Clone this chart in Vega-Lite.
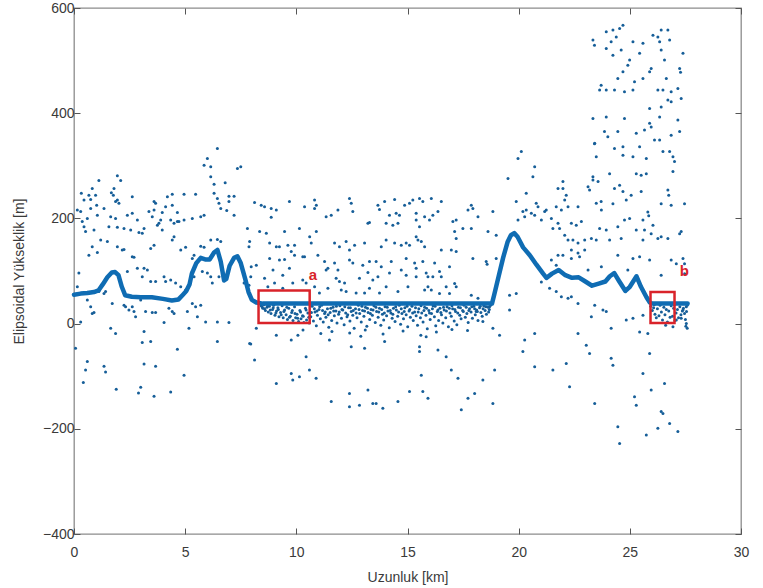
{
  "$schema": "https://vega.github.io/schema/vega-lite/v6.json",
  "width": 667,
  "height": 526,
  "autosize": {"type": "none"},
  "padding": {"left": 74, "top": 8, "right": 22, "bottom": 54},
  "background": "white",
  "config": {
    "view": {"stroke": "#8c8c8c", "strokeWidth": 1.3},
    "axis": {
      "labelFont": "Liberation Sans",
      "labelFontSize": 14,
      "labelColor": "#3a3a3a",
      "titleFont": "Liberation Sans",
      "titleFontSize": 14,
      "titleColor": "#3a3a3a",
      "titleFontWeight": "normal",
      "domain": false,
      "grid": false,
      "tickColor": "#555555",
      "tickWidth": 1,
      "tickSize": -6
    }
  },
  "datasets": {
    "profile": [
      {"x":0,"y":55},{"x":0.3,"y":57},{"x":0.6,"y":58},{"x":0.9,"y":60},{"x":1.1,"y":63},{"x":1.3,"y":75},{"x":1.5,"y":88},{"x":1.7,"y":97},{"x":1.85,"y":98},{"x":2.0,"y":92},{"x":2.15,"y":70},{"x":2.3,"y":54},{"x":2.6,"y":51},{"x":3.0,"y":50},{"x":3.5,"y":50},{"x":4.0,"y":47},{"x":4.4,"y":44},{"x":4.7,"y":46},{"x":4.9,"y":55},{"x":5.05,"y":62},{"x":5.2,"y":75},{"x":5.3,"y":95},{"x":5.5,"y":115},{"x":5.7,"y":125},{"x":5.9,"y":122},{"x":6.1,"y":122},{"x":6.3,"y":135},{"x":6.45,"y":140},{"x":6.6,"y":118},{"x":6.75,"y":82},{"x":6.85,"y":85},{"x":7.0,"y":110},{"x":7.2,"y":125},{"x":7.35,"y":128},{"x":7.5,"y":115},{"x":7.7,"y":85},{"x":7.85,"y":60},{"x":8.0,"y":45},{"x":8.2,"y":40},{"x":8.5,"y":38},{"x":18.8,"y":38},{"x":18.9,"y":55},{"x":19.1,"y":90},{"x":19.3,"y":125},{"x":19.5,"y":155},{"x":19.65,"y":168},{"x":19.8,"y":172},{"x":19.95,"y":165},{"x":20.2,"y":145},{"x":20.5,"y":130},{"x":20.8,"y":112},{"x":21.1,"y":95},{"x":21.25,"y":87},{"x":21.5,"y":95},{"x":21.8,"y":102},{"x":22.1,"y":92},{"x":22.4,"y":87},{"x":22.7,"y":88},{"x":23.0,"y":80},{"x":23.3,"y":72},{"x":23.6,"y":76},{"x":23.9,"y":80},{"x":24.1,"y":90},{"x":24.3,"y":96},{"x":24.5,"y":82},{"x":24.8,"y":62},{"x":25.0,"y":70},{"x":25.3,"y":90},{"x":25.5,"y":70},{"x":25.75,"y":50},{"x":25.9,"y":40},{"x":26.0,"y":38},{"x":27.6,"y":38}
    ],
    "boxes": [
      {"name":"a","x1":8.3,"x2":10.6,"y1":1,"y2":63},
      {"name":"b","x1":25.93,"x2":27.01,"y1":1,"y2":60}
    ],
    "labels": [
      {"name":"a","x":10.75,"y":92},
      {"name":"b","x":27.45,"y":100}
    ],
    "pts": [
      {"x":6.45,"y":333},{"x":6.0,"y":314},{"x":5.85,"y":301},{"x":6.15,"y":298},{"x":7.35,"y":295},{"x":7.5,"y":298},{"x":6.15,"y":279},{"x":1.95,"y":281},{"x":2.1,"y":272},{"x":1.12,"y":272},{"x":6.3,"y":265},{"x":6.8,"y":268},{"x":1.8,"y":257},{"x":1.68,"y":249},{"x":1.77,"y":244},{"x":0.82,"y":257},{"x":0.67,"y":244},{"x":0.33,"y":248},{"x":0.45,"y":235},{"x":0.75,"y":236},{"x":0.97,"y":244},{"x":1.95,"y":235},{"x":2.02,"y":229},{"x":1.87,"y":232},{"x":2.62,"y":241},{"x":3.6,"y":232},{"x":3.67,"y":229},{"x":4.2,"y":241},{"x":4.42,"y":246},{"x":4.95,"y":246},{"x":5.47,"y":246},{"x":6.3,"y":248},{"x":6.45,"y":238},{"x":6.52,"y":229},{"x":6.97,"y":242},{"x":7.2,"y":242},{"x":6.97,"y":232},{"x":0.15,"y":216},{"x":0.3,"y":213},{"x":0.75,"y":219},{"x":1.02,"y":225},{"x":0.6,"y":200},{"x":0.37,"y":194},{"x":1.35,"y":219},{"x":1.05,"y":206},{"x":1.65,"y":203},{"x":1.87,"y":200},{"x":2.4,"y":206},{"x":2.62,"y":210},{"x":2.85,"y":197},{"x":3.37,"y":213},{"x":3.6,"y":216},{"x":3.97,"y":211},{"x":4.12,"y":222},{"x":4.42,"y":225},{"x":4.65,"y":211},{"x":4.72,"y":194},{"x":4.95,"y":197},{"x":5.32,"y":200},{"x":5.7,"y":203},{"x":5.85,"y":206},{"x":6.6,"y":219},{"x":6.87,"y":215},{"x":7.2,"y":206},{"x":3.52,"y":203},{"x":3.9,"y":197},{"x":3.75,"y":187},{"x":4.35,"y":197},{"x":4.5,"y":191},{"x":4.65,"y":194},{"x":0.9,"y":178},{"x":0.52,"y":175},{"x":0.45,"y":184},{"x":1.57,"y":184},{"x":1.95,"y":183},{"x":2.25,"y":181},{"x":2.55,"y":178},{"x":2.92,"y":173},{"x":3.15,"y":181},{"x":3.07,"y":172},{"x":3.82,"y":191},{"x":3.97,"y":178},{"x":1.2,"y":159},{"x":1.5,"y":156},{"x":0.82,"y":146},{"x":1.05,"y":135},{"x":0.67,"y":130},{"x":1.95,"y":146},{"x":2.17,"y":140},{"x":2.25,"y":141},{"x":2.62,"y":127},{"x":2.7,"y":126},{"x":3.6,"y":149},{"x":3.45,"y":143},{"x":4.42,"y":159},{"x":4.5,"y":165},{"x":4.8,"y":140},{"x":5.02,"y":145},{"x":5.4,"y":130},{"x":5.32,"y":124},{"x":5.7,"y":147},{"x":5.85,"y":145},{"x":6.15,"y":159},{"x":6.45,"y":160},{"x":6.6,"y":156},{"x":7.8,"y":181},{"x":7.87,"y":146},{"x":2.4,"y":99},{"x":2.85,"y":105},{"x":3.15,"y":105},{"x":3.3,"y":102},{"x":3.07,"y":89},{"x":3.45,"y":80},{"x":3.67,"y":80},{"x":4.05,"y":89},{"x":4.12,"y":80},{"x":4.35,"y":83},{"x":4.57,"y":77},{"x":4.8,"y":70},{"x":5.02,"y":64},{"x":5.32,"y":99},{"x":5.4,"y":89},{"x":5.77,"y":99},{"x":6.0,"y":96},{"x":6.15,"y":89},{"x":6.22,"y":77},{"x":6.52,"y":89},{"x":7.95,"y":89},{"x":7.65,"y":77},{"x":7.87,"y":73},{"x":1.12,"y":61},{"x":1.35,"y":57},{"x":1.42,"y":61},{"x":0.22,"y":96},{"x":0.15,"y":70},{"x":0.6,"y":45},{"x":0.75,"y":32},{"x":0.82,"y":19},{"x":0.9,"y":21},{"x":0.3,"y":3},{"x":1.72,"y":38},{"x":2.25,"y":35},{"x":2.32,"y":32},{"x":2.62,"y":32},{"x":2.47,"y":26},{"x":2.7,"y":23},{"x":2.77,"y":13},{"x":3.0,"y":45},{"x":3.22,"y":23},{"x":3.52,"y":21},{"x":3.67,"y":21},{"x":4.27,"y":29},{"x":4.42,"y":23},{"x":4.5,"y":19},{"x":4.05,"y":2},{"x":5.1,"y":23},{"x":5.17,"y":-9},{"x":5.32,"y":38},{"x":5.47,"y":32},{"x":5.55,"y":13},{"x":5.92,"y":3},{"x":6.45,"y":3},{"x":6.97,"y":2},{"x":5.7,"y":35},{"x":1.65,"y":-9},{"x":1.87,"y":-19},{"x":0.07,"y":-47},{"x":3.15,"y":-15},{"x":3.07,"y":-36},{"x":3.45,"y":-34},{"x":4.65,"y":-49},{"x":6.45,"y":-34},{"x":7.95,"y":-39},{"x":0.6,"y":-72},{"x":0.52,"y":-88},{"x":0.42,"y":-112},{"x":1.35,"y":-81},{"x":1.42,"y":-92},{"x":3.15,"y":-77},{"x":3.67,"y":-81},{"x":4.95,"y":-98},{"x":3.0,"y":-121},{"x":3.6,"y":-138},{"x":4.35,"y":-130},{"x":2.9,"y":-132},{"x":1.9,"y":-125},
      {"x":8.12,"y":230},{"x":8.42,"y":225},{"x":8.57,"y":222},{"x":8.87,"y":219},{"x":9.1,"y":216},{"x":9.69,"y":232},{"x":10.37,"y":222},{"x":10.82,"y":235},{"x":10.9,"y":225},{"x":10.82,"y":219},{"x":11.34,"y":203},{"x":11.57,"y":206},{"x":11.87,"y":216},{"x":12.39,"y":238},{"x":12.47,"y":229},{"x":12.54,"y":213},{"x":13.22,"y":191},{"x":13.29,"y":192},{"x":13.67,"y":225},{"x":13.74,"y":217},{"x":13.97,"y":232},{"x":14.19,"y":206},{"x":14.49,"y":210},{"x":14.64,"y":206},{"x":14.42,"y":236},{"x":14.87,"y":225},{"x":15.09,"y":229},{"x":15.24,"y":235},{"x":15.54,"y":238},{"x":15.69,"y":232},{"x":15.39,"y":210},{"x":15.77,"y":203},{"x":14.04,"y":191},{"x":14.34,"y":187},{"x":14.57,"y":191},{"x":15.39,"y":197},{"x":15.54,"y":184},{"x":8.87,"y":202},{"x":8.35,"y":175},{"x":8.65,"y":172},{"x":9.47,"y":175},{"x":10.14,"y":181},{"x":10.9,"y":175},{"x":7.9,"y":156},{"x":8.8,"y":153},{"x":9.1,"y":146},{"x":9.24,"y":146},{"x":9.62,"y":149},{"x":9.77,"y":137},{"x":9.92,"y":149},{"x":10.37,"y":127},{"x":10.6,"y":165},{"x":10.67,"y":153},{"x":10.97,"y":130},{"x":11.72,"y":153},{"x":11.94,"y":146},{"x":12.24,"y":156},{"x":12.39,"y":140},{"x":12.62,"y":149},{"x":13.07,"y":153},{"x":13.82,"y":146},{"x":14.04,"y":159},{"x":14.42,"y":153},{"x":14.72,"y":149},{"x":14.94,"y":153},{"x":15.09,"y":149},{"x":15.39,"y":165},{"x":15.47,"y":159},{"x":15.62,"y":156},{"x":15.77,"y":146},{"x":8.8,"y":124},{"x":9.24,"y":121},{"x":9.47,"y":122},{"x":9.92,"y":130},{"x":10.29,"y":127},{"x":11.27,"y":118},{"x":11.42,"y":105},{"x":11.72,"y":115},{"x":11.87,"y":102},{"x":12.39,"y":121},{"x":12.54,"y":115},{"x":12.99,"y":111},{"x":13.29,"y":118},{"x":13.59,"y":118},{"x":13.82,"y":108},{"x":14.27,"y":118},{"x":14.94,"y":124},{"x":15.32,"y":115},{"x":15.39,"y":105},{"x":15.69,"y":118},{"x":7.97,"y":108},{"x":8.2,"y":111},{"x":8.95,"y":102},{"x":9.39,"y":92},{"x":9.69,"y":105},{"x":10.29,"y":83},{"x":10.44,"y":77},{"x":11.34,"y":102},{"x":11.79,"y":86},{"x":11.94,"y":80},{"x":12.17,"y":77},{"x":12.84,"y":86},{"x":13.22,"y":97},{"x":13.44,"y":83},{"x":13.67,"y":89},{"x":14.19,"y":96},{"x":14.72,"y":102},{"x":14.94,"y":92},{"x":15.39,"y":89},{"x":15.84,"y":96},{"x":8.72,"y":70},{"x":9.02,"y":77},{"x":9.39,"y":67},{"x":9.84,"y":77},{"x":10.82,"y":70},{"x":11.04,"y":58},{"x":11.42,"y":67},{"x":12.02,"y":64},{"x":12.24,"y":61},{"x":12.69,"y":58},{"x":13.07,"y":58},{"x":13.29,"y":67},{"x":13.74,"y":58},{"x":14.04,"y":70},{"x":14.57,"y":61},{"x":15.02,"y":70},{"x":15.77,"y":64},{"x":8.57,"y":86},{"x":8.2,"y":-9},{"x":7.9,"y":-38},{"x":8.12,"y":-69},{"x":9.1,"y":-22},{"x":9.77,"y":-31},{"x":10.07,"y":-22},{"x":10.44,"y":-63},{"x":11.49,"y":-31},{"x":12.47,"y":-44},{"x":13.07,"y":-47},{"x":13.97,"y":-34},{"x":15.54,"y":-44},{"x":15.54,"y":-53},{"x":15.84,"y":-25},{"x":9.1,"y":-114},{"x":9.77,"y":-95},{"x":9.84,"y":-107},{"x":10.14,"y":-101},{"x":10.59,"y":-88},{"x":10.89,"y":-104},{"x":12.39,"y":-133},{"x":13.22,"y":-126},{"x":11.57,"y":-148},{"x":12.39,"y":-158},{"x":12.84,"y":-155},{"x":13.44,"y":-152},{"x":13.59,"y":-152},{"x":13.89,"y":-161},{"x":14.57,"y":-148},{"x":15.09,"y":-129},{"x":15.62,"y":-98},{"x":15.69,"y":-129},
      {"x":16.07,"y":238},{"x":16.52,"y":232},{"x":15.99,"y":197},{"x":16.14,"y":206},{"x":16.37,"y":213},{"x":17.04,"y":194},{"x":17.19,"y":197},{"x":17.12,"y":175},{"x":17.19,"y":162},{"x":17.72,"y":216},{"x":17.87,"y":225},{"x":17.94,"y":219},{"x":18.17,"y":203},{"x":18.84,"y":213},{"x":17.49,"y":181},{"x":17.87,"y":181},{"x":18.62,"y":175},{"x":18.99,"y":168},{"x":16.52,"y":140},{"x":16.97,"y":140},{"x":17.19,"y":137},{"x":17.94,"y":124},{"x":18.54,"y":118},{"x":18.58,"y":113},{"x":18.99,"y":124},{"x":15.92,"y":89},{"x":16.14,"y":89},{"x":16.22,"y":115},{"x":16.44,"y":99},{"x":16.52,"y":89},{"x":16.89,"y":108},{"x":16.74,"y":70},{"x":15.92,"y":70},{"x":16.07,"y":64},{"x":16.44,"y":57},{"x":16.89,"y":57},{"x":17.12,"y":76},{"x":17.19,"y":70},{"x":17.87,"y":54},{"x":18.17,"y":48},{"x":18.09,"y":23},{"x":18.39,"y":4},{"x":18.69,"y":32},{"x":18.84,"y":-9},{"x":19.14,"y":-22},{"x":16.37,"y":-50},{"x":16.74,"y":-63},{"x":16.97,"y":-88},{"x":17.27,"y":-104},{"x":17.72,"y":-142},{"x":18.02,"y":-133},{"x":18.39,"y":-107},{"x":17.42,"y":-164},{"x":18.84,"y":-152},{"x":18.92,"y":-88},{"x":15.92,"y":-142},
      {"x":20.12,"y":327},{"x":19.97,"y":314},{"x":20.72,"y":298},{"x":20.64,"y":279},{"x":19.52,"y":276},{"x":20.34,"y":248},{"x":19.89,"y":232},{"x":19.97,"y":197},{"x":20.19,"y":213},{"x":20.34,"y":216},{"x":20.57,"y":210},{"x":20.79,"y":229},{"x":20.87,"y":222},{"x":21.17,"y":213},{"x":21.24,"y":216},{"x":20.27,"y":203},{"x":20.72,"y":206},{"x":21.02,"y":197},{"x":21.47,"y":200},{"x":21.77,"y":257},{"x":21.99,"y":257},{"x":21.99,"y":270},{"x":22.14,"y":244},{"x":22.07,"y":235},{"x":21.69,"y":222},{"x":21.92,"y":216},{"x":22.22,"y":222},{"x":22.67,"y":222},{"x":21.54,"y":181},{"x":21.77,"y":191},{"x":21.84,"y":181},{"x":22.37,"y":191},{"x":22.59,"y":187},{"x":22.82,"y":194},{"x":22.07,"y":168},{"x":22.22,"y":159},{"x":22.44,"y":159},{"x":22.67,"y":153},{"x":21.77,"y":130},{"x":21.99,"y":130},{"x":22.37,"y":140},{"x":22.67,"y":134},{"x":22.97,"y":140},{"x":23.12,"y":260},{"x":23.19,"y":254},{"x":22.97,"y":159},{"x":23.27,"y":162},{"x":23.34,"y":273},{"x":23.57,"y":270},{"x":23.49,"y":229},{"x":23.72,"y":216},{"x":23.49,"y":159},{"x":23.64,"y":181},{"x":23.42,"y":343},{"x":23.49,"y":317},{"x":21.47,"y":121},{"x":21.69,"y":111},{"x":22.37,"y":124},{"x":22.74,"y":127},{"x":23.12,"y":102},{"x":23.72,"y":108},{"x":19.59,"y":54},{"x":19.89,"y":57},{"x":19.59,"y":26},{"x":21.02,"y":79},{"x":21.39,"y":67},{"x":21.69,"y":61},{"x":21.92,"y":51},{"x":22.22,"y":48},{"x":22.67,"y":38},{"x":22.37,"y":51},{"x":23.42,"y":35},{"x":23.27,"y":13},{"x":20.27,"y":-31},{"x":20.72,"y":-19},{"x":20.19,"y":-53},{"x":20.72,"y":-82},{"x":21.54,"y":-88},{"x":22.14,"y":-76},{"x":22.67,"y":-19},{"x":23.04,"y":-41},{"x":23.19,"y":-57},{"x":22.29,"y":-120},{"x":23.42,"y":-152},{"x":23.34,"y":539},{"x":23.41,"y":529},{"x":23.34,"y":390},{"x":23.41,"y":342},{"x":23.64,"y":444},{"x":23.71,"y":453},{"x":24.09,"y":285},{"x":23.34,"y":279},{"x":23.86,"y":365},
      {"x":24.69,"y":567},{"x":24.54,"y":561},{"x":24.24,"y":558},{"x":23.94,"y":555},{"x":24.39,"y":545},{"x":24.16,"y":536},{"x":25.14,"y":536},{"x":25.59,"y":533},{"x":26.04,"y":548},{"x":26.26,"y":545},{"x":26.41,"y":558},{"x":26.71,"y":558},{"x":26.34,"y":536},{"x":26.79,"y":539},{"x":27.39,"y":514},{"x":23.94,"y":523},{"x":24.61,"y":520},{"x":25.44,"y":514},{"x":26.41,"y":520},{"x":24.24,"y":510},{"x":24.99,"y":501},{"x":24.91,"y":491},{"x":26.56,"y":501},{"x":25.96,"y":485},{"x":25.89,"y":479},{"x":27.24,"y":485},{"x":27.28,"y":478},{"x":24.46,"y":466},{"x":24.69,"y":479},{"x":25.21,"y":460},{"x":25.59,"y":466},{"x":26.64,"y":466},{"x":23.94,"y":444},{"x":24.31,"y":444},{"x":24.76,"y":441},{"x":25.14,"y":444},{"x":26.26,"y":444},{"x":26.49,"y":444},{"x":26.86,"y":441},{"x":27.16,"y":447},{"x":26.71,"y":425},{"x":26.86,"y":422},{"x":25.89,"y":409},{"x":26.41,"y":412},{"x":27.31,"y":428},{"x":23.94,"y":393},{"x":24.76,"y":390},{"x":25.89,"y":381},{"x":27.16,"y":387},{"x":25.96,"y":374},{"x":26.34,"y":393},{"x":24.46,"y":365},{"x":25.29,"y":362},{"x":25.66,"y":368},{"x":26.11,"y":349},{"x":26.34,"y":349},{"x":24.01,"y":355},{"x":26.86,"y":358},{"x":27.24,"y":365},{"x":24.31,"y":333},{"x":24.69,"y":336},{"x":25.44,"y":336},{"x":26.49,"y":327},{"x":26.79,"y":327},{"x":24.69,"y":320},{"x":25.14,"y":317},{"x":25.74,"y":314},{"x":26.94,"y":317},{"x":27.01,"y":308},{"x":25.29,"y":285},{"x":25.51,"y":282},{"x":25.74,"y":285},{"x":26.94,"y":289},{"x":24.54,"y":263},{"x":24.31,"y":257},{"x":24.69,"y":251},{"x":25.06,"y":244},{"x":25.51,"y":251},{"x":26.71,"y":254},{"x":26.75,"y":244},{"x":26.41,"y":228},{"x":26.86,"y":225},{"x":27.46,"y":228},{"x":24.84,"y":235},{"x":24.24,"y":228},{"x":23.71,"y":232},{"x":25.81,"y":212},{"x":25.85,"y":205},{"x":24.76,"y":197},{"x":24.99,"y":200},{"x":24.46,"y":184},{"x":25.59,"y":197},{"x":26.04,"y":187},{"x":25.29,"y":178},{"x":25.66,"y":178},{"x":25.96,"y":171},{"x":26.26,"y":162},{"x":26.41,"y":165},{"x":26.71,"y":162},{"x":27.24,"y":171},{"x":27.31,"y":175},{"x":23.94,"y":178},{"x":24.09,"y":159},{"x":24.61,"y":162},{"x":25.59,"y":159},{"x":24.46,"y":130},{"x":25.14,"y":124},{"x":25.44,"y":127},{"x":25.89,"y":121},{"x":26.86,"y":121},{"x":27.09,"y":114},{"x":27.39,"y":124},{"x":27.46,"y":114},{"x":24.91,"y":102},{"x":26.41,"y":92},{"x":27.46,"y":95},{"x":23.79,"y":26},{"x":23.94,"y":23},{"x":24.84,"y":7},{"x":25.14,"y":10},{"x":25.59,"y":16},{"x":24.16,"y":-9},{"x":25.44,"y":-16},{"x":25.81,"y":-19},{"x":26.94,"y":-6},{"x":27.09,"y":7},{"x":27.31,"y":10},{"x":27.54,"y":0},{"x":27.58,"y":-9},{"x":27.39,"y":26},{"x":27.54,"y":32},{"x":25.89,"y":-57},{"x":24.16,"y":-66},{"x":24.24,"y":-79},{"x":25.59,"y":-95},{"x":25.96,"y":-126},{"x":26.56,"y":-114},{"x":25.21,"y":-139},{"x":25.29,"y":-155},{"x":26.41,"y":-167},{"x":26.49,"y":-171},{"x":26.79,"y":-190},{"x":24.46,"y":-196},{"x":25.74,"y":-212},{"x":26.26,"y":-199},{"x":27.16,"y":-205},{"x":24.54,"y":-228},
      {"x":8.42,"y":34},{"x":8.49,"y":29},{"x":8.55,"y":36},{"x":8.61,"y":25},{"x":8.68,"y":31},{"x":8.74,"y":22},{"x":8.79,"y":33},{"x":8.86,"y":19},{"x":8.93,"y":27},{"x":8.98,"y":35},{"x":9.04,"y":16},{"x":9.11,"y":24},{"x":9.17,"y":30},{"x":9.22,"y":13},{"x":9.29,"y":21},{"x":9.36,"y":34},{"x":9.41,"y":11},{"x":9.47,"y":26},{"x":9.54,"y":17},{"x":9.6,"y":8},{"x":9.66,"y":29},{"x":9.73,"y":14},{"x":9.79,"y":21},{"x":9.85,"y":6},{"x":9.92,"y":32},{"x":9.97,"y":11},{"x":10.03,"y":18},{"x":10.1,"y":4},{"x":10.16,"y":25},{"x":10.21,"y":9},{"x":10.28,"y":15},{"x":10.34,"y":2},{"x":10.41,"y":29},{"x":10.46,"y":7},{"x":10.52,"y":20},{"x":10.58,"y":1},{"x":10.65,"y":13},{"x":10.71,"y":33},{"x":10.77,"y":5},{"x":10.84,"y":22},{"x":10.9,"y":-4},{"x":10.95,"y":16},{"x":11.02,"y":27},{"x":11.08,"y":9},{"x":11.14,"y":35},{"x":11.21,"y":3},{"x":11.27,"y":19},{"x":11.33,"y":12},{"x":11.4,"y":28},{"x":11.46,"y":-7},{"x":11.52,"y":21},{"x":11.59,"y":6},{"x":11.65,"y":31},{"x":11.71,"y":15},{"x":11.78,"y":24},{"x":11.83,"y":1},{"x":11.9,"y":18},{"x":11.96,"y":34},{"x":12.03,"y":10},{"x":12.09,"y":26},{"x":12.15,"y":-2},{"x":12.22,"y":20},{"x":12.28,"y":13},{"x":12.35,"y":30},{"x":12.41,"y":5},{"x":12.47,"y":23},{"x":12.54,"y":16},{"x":12.6,"y":-9},{"x":12.66,"y":28},{"x":12.73,"y":11},{"x":12.79,"y":35},{"x":12.85,"y":19},{"x":12.92,"y":3},{"x":12.98,"y":25},{"x":13.04,"y":14},{"x":13.11,"y":31},{"x":13.17,"y":-5},{"x":13.23,"y":21},{"x":13.3,"y":8},{"x":13.36,"y":27},{"x":13.42,"y":16},{"x":13.49,"y":34},{"x":13.55,"y":2},{"x":13.61,"y":23},{"x":13.68,"y":12},{"x":13.74,"y":29},{"x":13.8,"y":-3},{"x":13.87,"y":18},{"x":13.93,"y":7},{"x":13.99,"y":32},{"x":14.06,"y":15},{"x":14.12,"y":24},{"x":14.18,"y":-8},{"x":14.25,"y":20},{"x":14.31,"y":10},{"x":14.37,"y":29},{"x":14.44,"y":4},{"x":14.5,"y":26},{"x":14.56,"y":14},{"x":14.63,"y":35},{"x":14.69,"y":-1},{"x":14.75,"y":19},{"x":14.82,"y":9},{"x":14.88,"y":30},{"x":14.94,"y":17},{"x":15.01,"y":-6},{"x":15.07,"y":24},{"x":15.13,"y":12},{"x":15.2,"y":33},{"x":15.26,"y":6},{"x":15.32,"y":22},{"x":15.39,"y":15},{"x":15.45,"y":-3},{"x":15.51,"y":28},{"x":15.58,"y":11},{"x":15.64,"y":20},{"x":15.7,"y":3},{"x":15.77,"y":31},{"x":15.83,"y":16},{"x":15.89,"y":-10},{"x":15.96,"y":25},{"x":16.02,"y":8},{"x":16.08,"y":19},{"x":16.15,"y":34},{"x":16.21,"y":13},{"x":16.27,"y":-4},{"x":16.34,"y":23},{"x":16.4,"y":6},{"x":16.46,"y":29},{"x":16.53,"y":17},{"x":16.59,"y":1},{"x":16.65,"y":26},{"x":16.72,"y":11},{"x":16.78,"y":32},{"x":16.84,"y":-6},{"x":16.91,"y":20},{"x":16.97,"y":14},{"x":17.03,"y":28},{"x":17.1,"y":5},{"x":17.16,"y":23},{"x":17.22,"y":-2},{"x":17.29,"y":31},{"x":17.35,"y":16},{"x":17.41,"y":9},{"x":17.48,"y":25},{"x":17.54,"y":35},{"x":17.6,"y":12},{"x":17.67,"y":19},{"x":17.73,"y":2},{"x":17.79,"y":28},{"x":17.86,"y":22},{"x":17.92,"y":10},{"x":17.98,"y":33},{"x":18.05,"y":17},{"x":18.11,"y":26},{"x":18.17,"y":6},{"x":18.24,"y":30},{"x":18.3,"y":21},{"x":18.36,"y":14},{"x":18.43,"y":34},{"x":18.49,"y":25},{"x":18.55,"y":18},{"x":18.62,"y":31},{"x":18.68,"y":27},{"x":18.74,"y":35},
      {"x":8.46,"y":32},{"x":8.57,"y":28},{"x":8.71,"y":34},{"x":8.83,"y":26},{"x":8.96,"y":30},{"x":9.08,"y":20},{"x":9.19,"y":27},{"x":9.32,"y":17},{"x":9.44,"y":23},{"x":9.57,"y":31},{"x":9.69,"y":12},{"x":9.82,"y":25},{"x":9.94,"y":19},{"x":10.06,"y":10},{"x":10.19,"y":22},{"x":10.31,"y":14},{"x":10.44,"y":26},{"x":10.56,"y":12},{"x":10.68,"y":21},{"x":10.81,"y":28},{"x":10.93,"y":24},{"x":11.05,"y":32},{"x":11.18,"y":25},{"x":11.3,"y":22},{"x":11.43,"y":17},{"x":11.55,"y":29},{"x":11.68,"y":24},{"x":11.8,"y":33},{"x":11.93,"y":22},{"x":12.05,"y":27},{"x":12.18,"y":32},{"x":12.31,"y":17},{"x":12.43,"y":30},{"x":12.56,"y":25},{"x":12.69,"y":20},{"x":12.82,"y":27},{"x":12.95,"y":33},{"x":13.07,"y":24},{"x":13.2,"y":29},{"x":13.33,"y":19},{"x":13.45,"y":26},{"x":13.58,"y":31},{"x":13.71,"y":22},{"x":13.84,"y":27},{"x":13.96,"y":20},{"x":14.09,"y":31},{"x":14.22,"y":25},{"x":14.34,"y":18},{"x":14.47,"y":32},{"x":14.6,"y":22},{"x":14.72,"y":28},{"x":14.85,"y":23},{"x":14.98,"y":33},{"x":15.1,"y":27},{"x":15.23,"y":20},{"x":15.36,"y":30},{"x":15.48,"y":22},{"x":15.61,"y":34},{"x":15.74,"y":25},{"x":15.86,"y":29},{"x":15.99,"y":20},{"x":16.12,"y":28},{"x":16.24,"y":33},{"x":16.37,"y":26},{"x":16.5,"y":21},{"x":16.62,"y":31},{"x":16.75,"y":24},{"x":16.88,"y":29},{"x":17.0,"y":34},{"x":17.13,"y":27},{"x":17.26,"y":20},{"x":17.38,"y":30},{"x":17.51,"y":23},{"x":17.64,"y":31},{"x":17.76,"y":25},{"x":17.89,"y":32},{"x":18.02,"y":28},{"x":18.14,"y":23},{"x":18.27,"y":33},{"x":18.4,"y":28},{"x":18.52,"y":32},{"x":18.65,"y":22},
      {"x":11.6,"y":-15},{"x":12.4,"y":-18},{"x":13.1,"y":-12},{"x":13.9,"y":-20},{"x":14.8,"y":-14},{"x":15.6,"y":-22},{"x":16.3,"y":-16},{"x":17.0,"y":-11},{"x":17.7,"y":-13},{"x":12.9,"y":-24},{"x":10.3,"y":-12},{"x":11.1,"y":-19},
      {"x":25.94,"y":33},{"x":26.01,"y":25},{"x":26.07,"y":30},{"x":26.13,"y":18},{"x":26.19,"y":11},{"x":26.24,"y":28},{"x":26.31,"y":15},{"x":26.36,"y":35},{"x":26.42,"y":22},{"x":26.47,"y":7},{"x":26.53,"y":31},{"x":26.58,"y":17},{"x":26.64,"y":27},{"x":26.69,"y":3},{"x":26.75,"y":24},{"x":26.81,"y":12},{"x":26.86,"y":34},{"x":26.92,"y":14},{"x":26.97,"y":29},{"x":27.03,"y":6},{"x":27.08,"y":20},{"x":27.14,"y":27},{"x":27.19,"y":11},{"x":27.25,"y":32},{"x":27.3,"y":17},{"x":27.36,"y":24},{"x":27.41,"y":29},{"x":27.46,"y":19},{"x":27.5,"y":8},{"x":27.55,"y":23},{"x":27.58,"y":35},{"x":26.1,"y":36},{"x":26.61,"y":-3},{"x":27.0,"y":36},{"x":27.52,"y":-5}
    ]
  },
  "layer": [
    {
      "data": {"name": "pts"},
      "mark": {"type": "point", "filled": true, "size": 9, "opacity": 1, "color": "#165e98"},
      "encoding": {
        "x": {"field": "x", "type": "quantitative", "scale": {"domain": [0, 30], "nice": false},
              "axis": {"orient": "bottom", "values": [0, 5, 10, 15, 20, 25, 30], "title": "Uzunluk [km]", "labelPadding": 17, "titlePadding": 11, "labelFlush": false}},
        "y": {"field": "y", "type": "quantitative", "scale": {"domain": [-400, 600], "nice": false},
              "axis": {"orient": "left", "values": [-400, -200, 0, 200, 400, 600], "title": "Elipsoidal Yükseklik [m]", "labelPadding": 6, "titlePadding": 16, "labelFlush": false}}
      }
    },
    {
      "data": {"name": "profile"},
      "mark": {"type": "line", "strokeWidth": 4.5, "color": "#0f6cb3", "strokeJoin": "round", "strokeCap": "round"},
      "encoding": {
        "x": {"field": "x", "type": "quantitative", "scale": {"domain": [0, 30], "nice": false},
              "axis": {"orient": "top", "values": [0, 5, 10, 15, 20, 25, 30], "labels": false, "title": null}},
        "y": {"field": "y", "type": "quantitative", "scale": {"domain": [-400, 600], "nice": false},
              "axis": {"orient": "right", "values": [-400, -200, 0, 200, 400, 600], "labels": false, "title": null}}
      }
    },
    {
      "data": {"name": "boxes"},
      "mark": {"type": "rect", "fillOpacity": 0, "stroke": "#d9232a", "strokeWidth": 2.5},
      "encoding": {
        "x": {"field": "x1", "type": "quantitative", "scale": {"domain": [0, 30], "nice": false}, "axis": null},
        "x2": {"field": "x2"},
        "y": {"field": "y1", "type": "quantitative", "scale": {"domain": [-400, 600], "nice": false}, "axis": null},
        "y2": {"field": "y2"}
      }
    },
    {
      "data": {"name": "labels"},
      "mark": {"type": "text", "color": "#d9232a", "fontSize": 15, "fontWeight": "bold", "font": "Liberation Sans", "align": "center", "baseline": "middle"},
      "encoding": {
        "x": {"field": "x", "type": "quantitative", "scale": {"domain": [0, 30], "nice": false}, "axis": null},
        "y": {"field": "y", "type": "quantitative", "scale": {"domain": [-400, 600], "nice": false}, "axis": null},
        "text": {"field": "name"}
      }
    }
  ],
  "resolve": {"axis": {"x": "independent", "y": "independent"}}
}
